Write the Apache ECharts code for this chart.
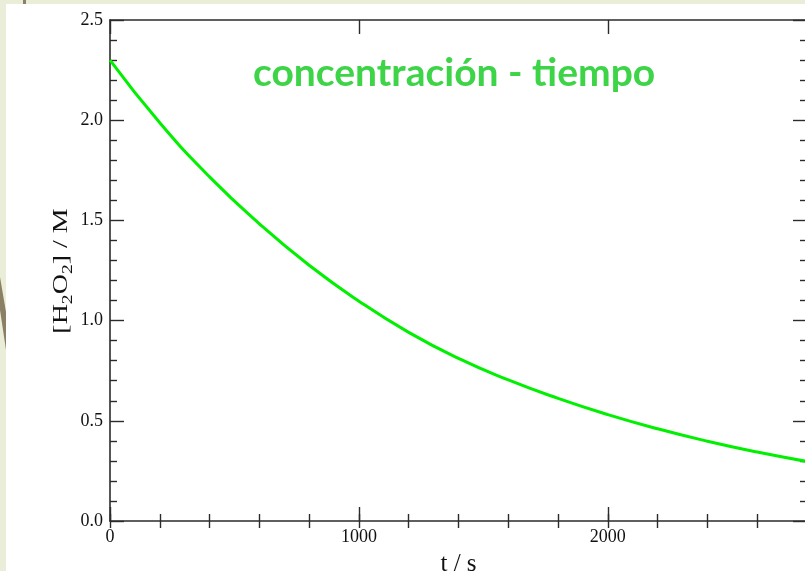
<!DOCTYPE html>
<html>
<head>
<meta charset="utf-8">
<title>concentración - tiempo</title>
<script src="https://cdn.jsdelivr.net/npm/echarts@6/dist/echarts.min.js"></script>
<style>
  html, body { margin: 0; padding: 0; background: #eaeed8; }
  #chart { width: 805px; height: 571px; }
</style>
</head>
<body>
<div id="chart"></div>
<script>
// Decay of hydrogen peroxide: concentration (M) against time (s)
const timeSeconds = [0, 200, 400, 600, 800, 1000, 1200, 1400, 1600, 1800, 2000, 2200, 2400, 2600, 2800];
const concentration = [2.30, 1.987, 1.717, 1.483, 1.276, 1.097, 0.941, 0.811, 0.704, 0.612, 0.531, 0.460, 0.398, 0.344, 0.297];

const xTickLabels = ['0', '1000', '2000'];
const yTickLabels = ['0.0', '0.5', '1.0', '1.5', '2.0', '2.5'];

const titleText = 'concentración - tiempo';
const xAxisName = 't / s';
const yAxisName = '{n|[H}{s|2}{n|O}{s|2}{n|] / M}';

const serif = '"Liberation Serif", "Times New Roman", serif';
const ink = '#2b2b2b';

const seriesData = timeSeconds.map((t, i) => [t, concentration[i]]);

// shared frame pieces
const frameLine = { show: true, onZero: false, lineStyle: { color: ink, width: 1.6 } };
const majorTick = { show: true, inside: true, length: 14, lineStyle: { color: ink, width: 1.4 } };
const minorTickAsAxis = { show: true, inside: true, length: 7, lineStyle: { color: ink, width: 1.4 } };

function xAxisDef(position, major, withText) {
  return {
    type: 'value', position: position, min: 0, max: 2800,
    interval: major ? 1000 : 200,
    axisLine: major ? frameLine : { show: false },
    axisTick: major ? majorTick : minorTickAsAxis,
    splitLine: { show: false },
    axisLabel: withText ? {
      show: true, margin: 7, showMaxLabel: false,
      fontFamily: serif, fontSize: 18, color: '#111',
      formatter: v => xTickLabels[Math.round(v / 1000)] ?? ''
    } : { show: false },
    name: withText ? xAxisName : '',
    nameLocation: 'middle', nameGap: 31,
    nameTextStyle: { fontFamily: serif, fontSize: 25, color: '#111' }
  };
}

function yAxisDef(position, withText) {
  return {
    type: 'value', position: position, min: 0, max: 2.5, interval: 0.5,
    axisLine: frameLine,
    axisTick: majorTick,
    minorTick: { show: true, splitNumber: 5, length: 7, lineStyle: { color: ink, width: 1.4 } },
    splitLine: { show: false },
    minorSplitLine: { show: false },
    axisLabel: withText ? {
      show: true, margin: 7, fontFamily: serif, fontSize: 18, color: '#111',
      formatter: v => yTickLabels[Math.round(v / 0.5)] ?? ''
    } : { show: false }
  };
}

const chart = echarts.init(document.getElementById('chart'), null, { renderer: 'canvas' });

chart.setOption({
  animation: false,
  backgroundColor: '#eaeed8',
  title: {
    text: titleText, left: 253, top: 54, padding: 0,
    textStyle: { fontFamily: 'Lato, "Open Sans", sans-serif', fontWeight: 'bold', fontSize: 39, color: '#3dd448' }
  },
  graphic: [
    { type: 'rect', z: -10, shape: { x: 6, y: 4, width: 800, height: 568 }, style: { fill: '#ffffff' } },
    { type: 'polygon', z: -10, shape: { points: [[0, 277], [6, 312], [6, 350], [0, 310]] }, style: { fill: '#8b8066' } },
    { type: 'rect', z: -10, shape: { x: 23, y: 0, width: 3, height: 4 }, style: { fill: '#8a8070' } },
    // vertical axis title, stretched along its reading direction
    {
      type: 'text', x: 62, y: 271, rotation: Math.PI / 2, scaleX: 1.4, scaleY: 1,
      style: {
        text: yAxisName, align: 'center', verticalAlign: 'middle',
        rich: {
          n: { fontFamily: serif, fontSize: 20, lineHeight: 26, fill: '#111' },
          s: { fontFamily: serif, fontSize: 14, lineHeight: 14, verticalAlign: 'bottom', fill: '#111' }
        }
      }
    }
  ],
  grid: { left: 110, top: 20, right: -2, bottom: 50, containLabel: false, outerBoundsMode: 'none' },
  xAxis: [
    xAxisDef('bottom', true, true),
    xAxisDef('bottom', false, false),
    xAxisDef('top', true, false),
    xAxisDef('top', false, false)
  ],
  yAxis: [
    yAxisDef('left', true),
    yAxisDef('right', false)
  ],
  series: [{
    type: 'line',
    xAxisIndex: 0, yAxisIndex: 0,
    data: seriesData,
    smooth: 0.5,
    showSymbol: false, symbol: 'none',
    lineStyle: { color: '#00f000', width: 3 },
    z: 5
  }]
});
</script>
</body>
</html>
